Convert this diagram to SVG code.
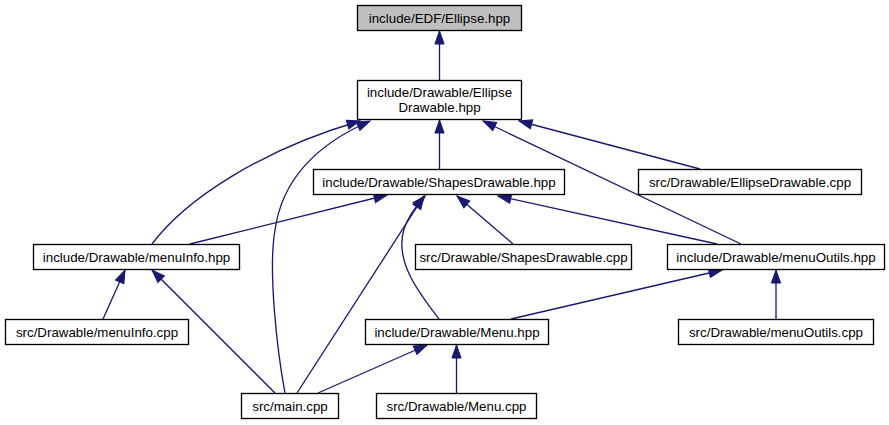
<svg xmlns="http://www.w3.org/2000/svg" width="889" height="425" viewBox="0 0 889 425">
<style>
.n rect{fill:#ffffff;stroke:#000000;stroke-width:1.33}
.n.root rect{fill:#bfbfbf}
.n text{font-family:"Liberation Sans",Arial,Helvetica,sans-serif;font-size:13.33px;fill:#000000;text-anchor:middle}
.e path{fill:none;stroke:#191970;stroke-width:1.33;marker-end:url(#ah)}
</style>
<defs>
<marker id="ah" markerUnits="userSpaceOnUse" markerWidth="16" markerHeight="12" viewBox="-1 -6 16 12" refX="13" refY="0" orient="auto">
<path d="M0,-4.6 L13,0 L0,4.6 Z" fill="#191970" stroke="#191970" stroke-width="1"/>
</marker>
</defs>
<rect width="889" height="425" fill="#ffffff"/>
<g id="connectors" class="e">
<path d="M439.5,80 L439.5,31"/>
<path d="M439.5,170 L439.5,120"/>
<path d="M700,169 L519,121"/>
<path d="M741,244 L483,121"/>
<path d="M152,244 C185,200 260,150 360,121"/>
<path d="M285,393 C277,350 268,270 275,230 C282,180 315,145 370,121"/>
<path d="M190,244 L387,195"/>
<path d="M297,393 L424,196"/>
<path d="M439,319 C420,294 394,262 404,229 C408,217 416,206 425,196"/>
<path d="M513,244 L457,196"/>
<path d="M717,244 L498,196"/>
<path d="M103,319 L125,270"/>
<path d="M275,393 L152,270"/>
<path d="M511,319 L722,270"/>
<path d="M776,319 L776,270"/>
<path d="M318,393 L427,345"/>
<path d="M456.5,393 L456.5,345"/>
</g>
<g id="node1" class="n root"><rect x="357.5" y="5.5" width="164" height="25"/><text x="439.5" y="22.5">include/EDF/Ellipse.hpp</text></g>
<g id="node2" class="n"><rect x="357.5" y="80.5" width="164" height="39"/><text x="439.5" y="97">include/Drawable/Ellipse</text><text x="439.5" y="112">Drawable.hpp</text></g>
<g id="node3" class="n"><rect x="313.5" y="169.5" width="251" height="25"/><text x="439" y="186.5">include/Drawable/ShapesDrawable.hpp</text></g>
<g id="node4" class="n"><rect x="638.5" y="169.5" width="223" height="25"/><text x="750" y="186.5">src/Drawable/EllipseDrawable.cpp</text></g>
<g id="node5" class="n"><rect x="33.5" y="244.5" width="206" height="25"/><text x="136.5" y="261.5">include/Drawable/menuInfo.hpp</text></g>
<g id="node6" class="n"><rect x="415.5" y="244.5" width="216" height="25"/><text x="523.5" y="261.5">src/Drawable/ShapesDrawable.cpp</text></g>
<g id="node7" class="n"><rect x="667.5" y="244.5" width="217" height="25"/><text x="776" y="261.5">include/Drawable/menuOutils.hpp</text></g>
<g id="node8" class="n"><rect x="5.5" y="319.5" width="183" height="25"/><text x="97" y="336.5">src/Drawable/menuInfo.cpp</text></g>
<g id="node9" class="n"><rect x="365.5" y="319.5" width="183" height="25"/><text x="457" y="336.5">include/Drawable/Menu.hpp</text></g>
<g id="node10" class="n"><rect x="678.5" y="319.5" width="195" height="25"/><text x="776" y="336.5">src/Drawable/menuOutils.cpp</text></g>
<g id="node11" class="n"><rect x="241.5" y="393.5" width="97" height="25"/><text x="290" y="410.5">src/main.cpp</text></g>
<g id="node12" class="n"><rect x="376.5" y="393.5" width="160" height="25"/><text x="456.5" y="410.5">src/Drawable/Menu.cpp</text></g>
</svg>
